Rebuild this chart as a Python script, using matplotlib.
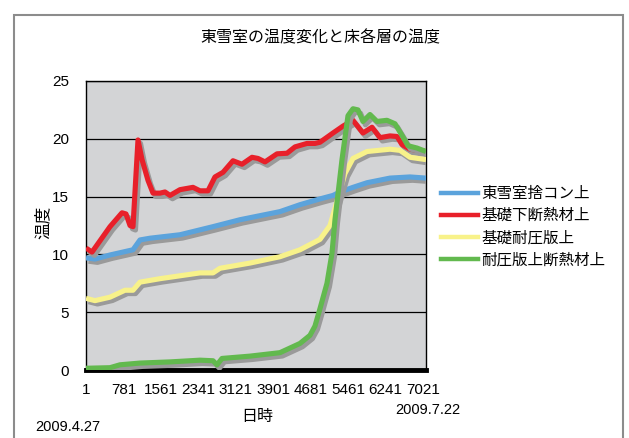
import matplotlib
matplotlib.use("Agg")
import matplotlib.pyplot as plt
import matplotlib.patheffects as pe
from matplotlib.lines import Line2D
from matplotlib.patches import Rectangle

plt.rcParams['font.family'] = ['Noto Sans CJK JP', 'DejaVu Sans']

# sample index (1 = 2009.4.27, ~7084 = 2009.7.22) and temperature [deg C]
blue_x = [1, 188, 501, 980, 1126, 1334, 1959, 2647, 3209, 4042, 4459, 4875,
          5146, 5292, 5563, 5855, 6334, 6751, 7084]
blue_y = [9.7, 9.6, 9.95, 10.4, 11.25, 11.4, 11.7, 12.4, 13.0, 13.7, 14.3, 14.8,
          15.1, 15.4, 15.8, 16.2, 16.6, 16.7, 16.6]

red_x = [1, 126, 501, 751, 834, 918, 980, 1084, 1168, 1293, 1397, 1543, 1647,
         1751, 1959, 2230, 2376, 2542, 2688, 2855, 3063, 3251, 3459, 3584, 3730,
         3980, 4188, 4355, 4605, 4771, 4875, 5146, 5355, 5563, 5771, 5959, 6125,
         6334, 6480, 6584, 6751, 7084]
red_y = [10.55, 10.2, 12.4, 13.6, 13.5, 12.5, 12.4, 19.9, 18.2, 16.4, 15.3, 15.3,
         15.4, 15.1, 15.6, 15.8, 15.5, 15.5, 16.7, 17.1, 18.1, 17.8, 18.4, 18.3,
         18.0, 18.7, 18.75, 19.3, 19.6, 19.6, 19.7, 20.5, 21.1, 21.6, 20.5, 21.0,
         20.1, 20.25, 20.2, 19.5, 19.1, 18.9]

yellow_x = [1, 188, 501, 813, 980, 1126, 1543, 2376, 2647, 2792, 3417, 4042,
            4459, 4875, 5084, 5188, 5292, 5396, 5563, 5855, 6334, 6542, 6751, 7084]
yellow_y = [6.2, 6.0, 6.3, 6.9, 6.9, 7.6, 7.9, 8.4, 8.4, 8.8, 9.25, 9.8,
            10.4, 11.3, 12.5, 14.0, 15.5, 17.0, 18.3, 18.9, 19.1, 19.0, 18.4, 18.2]

green_x = [1, 501, 709, 1126, 1751, 2376, 2647, 2730, 2834, 3417, 4042, 4459,
           4667, 4771, 4875, 5021, 5125, 5188, 5334, 5459, 5563, 5667, 5771,
           5917, 6063, 6271, 6438, 6584, 6709, 6896, 7084]
green_y = [0.15, 0.2, 0.45, 0.6, 0.7, 0.85, 0.8, 0.45, 1.0, 1.2, 1.5, 2.3,
           3.0, 3.8, 5.3, 7.5, 10.1, 13.0, 18.2, 22.0, 22.6, 22.5, 21.5,
           22.1, 21.5, 21.6, 21.3, 20.3, 19.4, 19.2, 18.9]

labels = ['東雪室捨コン上', '基礎下断熱材上', '基礎耐圧版上', '耐圧版上断熱材上']
colors = ['#5ba3dc', '#e8202a', '#f8f28a', '#62b94e']
xticks = [1, 781, 1561, 2341, 3121, 3901, 4681, 5461, 6241, 7021]

num_font = ['Liberation Sans', 'DejaVu Sans']

fig = plt.figure(figsize=(6.29, 4.38), dpi=100)
fig.patch.set_facecolor('white')

# outer chart frame
fig.patches.append(Rectangle((14 / 629, -0.05), (623 - 14) / 629, 1.05 - 15 / 438,
                             transform=fig.transFigure, fill=False,
                             edgecolor='#8c8c8c', linewidth=1.5))

ax = fig.add_axes([86 / 629, 1 - 370 / 438, (426 - 86) / 629, (370 - 81) / 438])
ax.set_facecolor('#d3d4d6')

shadow = [pe.SimpleLineShadow(offset=(1.8, -2.4), shadow_color='#9a9a9a', alpha=1.0),
          pe.Normal()]
for xs, ys, c in zip([blue_x, red_x, yellow_x, green_x],
                     [blue_y, red_y, yellow_y, green_y], colors):
    ax.plot(xs, ys, color=c, linewidth=3.7, solid_joinstyle='round',
            solid_capstyle='butt', path_effects=shadow, zorder=3)

ax.set_xlim(1, 7084)
ax.set_ylim(0, 25)
ax.set_yticks([0, 5, 10, 15, 20, 25])
ax.set_xticks(xticks)
ax.yaxis.grid(True, color='black', linewidth=0.9)
ax.set_axisbelow(True)
ax.tick_params(length=0, labelsize=11, pad=12)
ax.tick_params(axis='x', pad=9)
for lab in ax.get_xticklabels() + ax.get_yticklabels():
    lab.set_family(num_font)
for s in ax.spines.values():
    s.set_color('black')
    s.set_linewidth(1.0)
ax.spines['bottom'].set_linewidth(3.5)

fig.text(320 / 629, 1 - 38 / 438, '東雪室の温度変化と床各層の温度', ha='center',
         va='center', fontsize=11.5)
fig.text(43 / 629, 1 - 222 / 438, '温度', ha='center', va='center', rotation=90,
         fontsize=12)
fig.text(257 / 629, 1 - 416 / 438, '日時', ha='center', va='center', fontsize=11.5)
fig.text(35 / 629, 1 - 427 / 438, '2009.4.27', ha='left', va='center', fontsize=10.5,
         family=num_font)
fig.text(395 / 629, 1 - 410 / 438, '2009.7.22', ha='left', va='center', fontsize=10.5,
         family=num_font)

handles = [Line2D([], [], color=c, linewidth=3.2) for c in colors]
fig.legend(handles, labels, loc='upper left',
           bbox_to_anchor=(441 / 629, 1 - 185 / 438), frameon=False,
           fontsize=11.2, handlelength=2.4, handletextpad=0.2, labelspacing=0.33,
           borderpad=0, borderaxespad=0)

fig.savefig('out.png', dpi=100)
